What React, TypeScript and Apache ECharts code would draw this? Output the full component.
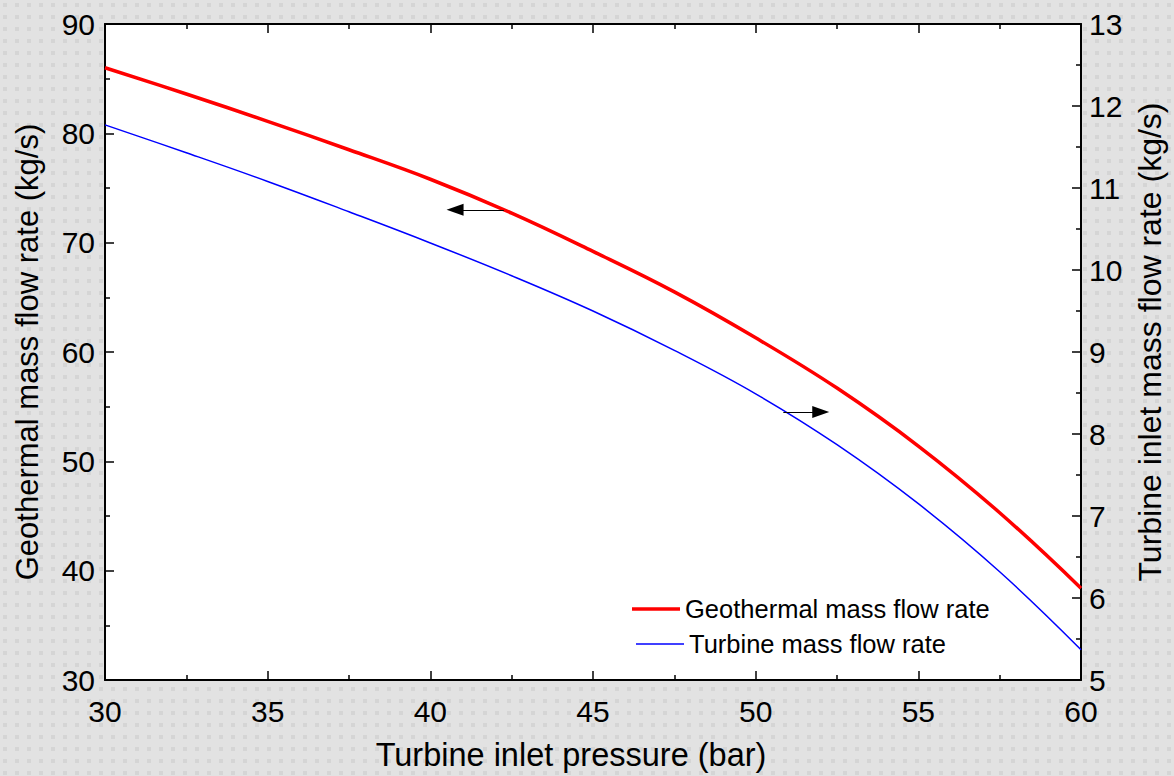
import React, { useEffect, useRef } from "react";
import * as echarts from "echarts";

const pressure = [30, 32.5, 35, 37.5, 40, 42.5, 45, 47.5, 50, 52.5, 55, 57.5, 60];
const geothermalFlow = [86.0, 83.6, 81.1, 78.5, 75.8, 72.7, 69.2, 65.5, 61.3, 56.7, 51.4, 45.3, 38.4];
const turbineFlow = [11.77, 11.43, 11.08, 10.71, 10.33, 9.93, 9.5, 9.02, 8.49, 7.87, 7.15, 6.32, 5.37];

const leftArrow = [[42.26, 73.0], [40.76, 73.0]];
const rightArrow = [[50.85, 8.267], [52.0, 8.267]];

const xName = "Turbine inlet pressure (bar)";
const leftName = "Geothermal mass flow rate (kg/s)";
const rightName = "Turbine inlet mass flow rate (kg/s)";
const redName = "Geothermal mass flow rate";
const blueName = "Turbine mass flow rate";

const FONT = "'Liberation Sans', Arial, sans-serif";

const dotBg =
  "url(\"data:image/svg+xml,%3Csvg xmlns='http://www.w3.org/2000/svg' width='12' height='12'%3E%3Crect x='3' y='3' width='4' height='4' fill='%23d5d5d5'/%3E%3C/svg%3E\")";

export default function App() {
  const ref = useRef<HTMLDivElement>(null);
  useEffect(() => {
    if (!ref.current) return;
    const chart = echarts.init(ref.current, undefined, { renderer: "svg" });
    const axisLine = { show: true, onZero: false, lineStyle: { color: "#000", width: 2 } };
    const tick = { show: true, inside: true, length: 9, lineStyle: { color: "#000", width: 1.5 } };
    const minor = { show: true, splitNumber: 2, length: 5, lineStyle: { color: "#000", width: 1.5 } };
    const label = { color: "#000", fontSize: 30, fontFamily: FONT };
    chart.setOption({
      animation: false,
      backgroundColor: "transparent",
      grid: {
        left: 105,
        right: 86,
        top: 24,
        bottom: 94,
        show: true,
        backgroundColor: "#ffffff",
        borderWidth: 0,
      },
      legend: [
        {
          data: [redName],
          left: 627,
          top: 591,
          icon: "rect",
          itemWidth: 48,
          itemHeight: 3.5,
          textStyle: { color: "#000", fontSize: 25.5, fontFamily: FONT },
        },
        {
          data: [blueName],
          left: 631,
          top: 626,
          icon: "rect",
          itemWidth: 48,
          itemHeight: 1.5,
          textStyle: { color: "#000", fontSize: 25.5, fontFamily: FONT },
        },
      ],
      xAxis: [
        {
          type: "value",
          position: "bottom",
          min: 30,
          max: 60,
          interval: 5,
          name: xName,
          nameLocation: "middle",
          nameGap: 58,
          nameTextStyle: { color: "#000", fontSize: 32.5, fontFamily: FONT, padding: [0, 44, 0, 0] },
          axisLine,
          axisTick: tick,
          minorTick: minor,
          axisLabel: { ...label, margin: 16 },
          splitLine: { show: false },
        },
        {
          type: "value",
          position: "top",
          min: 30,
          max: 60,
          interval: 5,
          axisLine,
          axisTick: tick,
          minorTick: minor,
          axisLabel: { show: false },
          splitLine: { show: false },
        },
      ],
      yAxis: [
        {
          type: "value",
          position: "left",
          min: 30,
          max: 90,
          interval: 10,
          name: leftName,
          nameLocation: "middle",
          nameGap: 62,
          nameTextStyle: { color: "#000", fontSize: 31, fontFamily: FONT },
          axisLine,
          axisTick: tick,
          minorTick: minor,
          axisLabel: { ...label, margin: 10 },
          splitLine: { show: false },
        },
        {
          type: "value",
          position: "right",
          min: 5,
          max: 13,
          interval: 1,
          name: rightName,
          nameLocation: "middle",
          nameGap: 53,
          nameTextStyle: { color: "#000", fontSize: 32, fontFamily: FONT, padding: [0, 0, 0, 20] },
          axisLine,
          axisTick: tick,
          minorTick: minor,
          axisLabel: { ...label, margin: 8 },
          splitLine: { show: false },
        },
      ],
      series: [
        {
          name: redName,
          type: "line",
          xAxisIndex: 0,
          yAxisIndex: 0,
          smooth: 0.4,
          showSymbol: false,
          data: pressure.map((p, i) => [p, geothermalFlow[i]]),
          lineStyle: { color: "#ff0000", width: 3.5 },
          itemStyle: { color: "#ff0000" },
          markLine: {
            silent: true,
            symbol: ["none", "triangle"],
            symbolSize: [12, 17],
            label: { show: false },
            lineStyle: { color: "#000", width: 1.2, type: "solid" },
            itemStyle: { color: "#000" },
            data: [[{ coord: leftArrow[0] }, { coord: leftArrow[1] }]],
          },
        },
        {
          name: blueName,
          type: "line",
          xAxisIndex: 0,
          yAxisIndex: 1,
          smooth: 0.4,
          showSymbol: false,
          data: pressure.map((p, i) => [p, turbineFlow[i]]),
          lineStyle: { color: "#0000ff", width: 1.5 },
          itemStyle: { color: "#0000ff" },
          markLine: {
            silent: true,
            symbol: ["none", "triangle"],
            symbolSize: [12, 17],
            label: { show: false },
            lineStyle: { color: "#000", width: 1.2, type: "solid" },
            itemStyle: { color: "#000" },
            data: [[{ coord: rightArrow[0] }, { coord: rightArrow[1] }]],
          },
        },
      ],
    });
    return () => chart.dispose();
  }, []);
  return (
    <div
      style={{
        position: "fixed",
        left: 0,
        top: 0,
        width: 1174,
        height: 776,
        backgroundColor: "#e2e2e2",
        backgroundImage: dotBg,
      }}
    >
      <div ref={ref} style={{ width: 1174, height: 776 }} />
    </div>
  );
}
